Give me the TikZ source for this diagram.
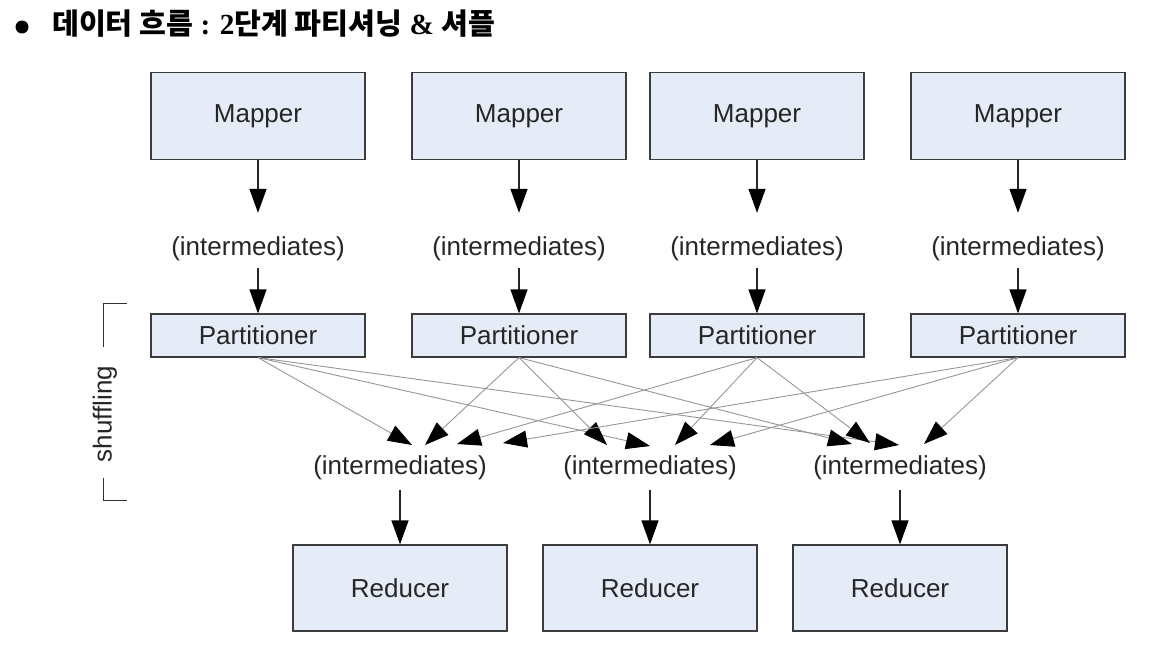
\documentclass[tikz,border=0pt]{standalone}
\usepackage{fontspec}
\setmainfont{Liberation Serif}
\newfontfamily\arialf{Liberation Sans}
\newfontfamily\kr{Noto Sans CJK KR}
\usetikzlibrary{arrows.meta}
\definecolor{boxfill}{RGB}{230,236,247}
\definecolor{boxline}{RGB}{60,60,60}
\definecolor{shufline}{RGB}{150,150,150}
\begin{document}
\begin{tikzpicture}[x=1pt,y=-1pt,
 lbl/.style={font=\arialf\fontsize{26}{30}\selectfont, text=black!85},
 bigbox/.style={lbl, draw=boxline, line width=1.2pt, fill=boxfill, minimum width=214pt, minimum height=87pt, inner sep=0pt},
 pbox/.style={lbl, draw=boxline, line width=1.2pt, fill=boxfill, minimum width=214pt, minimum height=43pt, inner sep=0pt},
 inter/.style={lbl, inner sep=0pt, text height=19pt, text depth=5.5pt},
 varr/.style={draw=black!85, line width=1.3pt, -{Triangle[length=24pt,width=17pt,color=black]}},
 sarr/.style={draw=shufline, line width=0.9pt, -{Triangle[length=24pt,width=17pt,color=black]}},
 brk/.style={draw=black!80, line width=1pt}
]
\useasboundingbox (0,0) rectangle (1166,659);

% title
\fill (22,27) circle (6.5);
\node[anchor=west, inner sep=0pt, font=\bfseries\fontsize{29.2}{32}\selectfont] (title) at (52,24)
  {{\kr 데이터 흐름} : 2{\kr 단계 파티셔닝} \& {\kr 셔플}};

% mappers
\foreach \n/\x in {1/258,2/519,3/757,4/1018}{
  \node[bigbox] (m\n) at (\x,116) {Mapper};
  \node[inter] (i\n) at (\x,249) {(intermediates)};
  \node[pbox] (p\n) at (\x,335.5) {Partitioner};
  \draw[varr, shorten >=23.75pt] (m\n.south) -- (i\n.north);
  \draw[varr, shorten <=6.75pt] (i\n.south) -- (p\n.north);
}

% reducers
\foreach \n/\x in {1/400,2/650,3/900}{
  \node[inter] (j\n) at (\x,468) {(intermediates)};
  \node[bigbox, minimum height=86pt] (r\n) at (\x,588) {Reducer};
  \draw[varr, shorten <=9.75pt] (j\n.south) -- (r\n.north);
}

% shuffle tips: t<target><source>
\coordinate (t11) at (412,445);
\coordinate (t12) at (425,445);
\coordinate (t13) at (457,444);
\coordinate (t14) at (503,443);
\coordinate (t21) at (650,446);
\coordinate (t22) at (607,445);
\coordinate (t23) at (675,445);
\coordinate (t24) at (710,445);
\coordinate (t31) at (899,445);
\coordinate (t32) at (852,444);
\coordinate (t33) at (870,443);
\coordinate (t34) at (924,444);
\foreach \s in {1,2,3,4}{
  \foreach \t in {1,2,3}{
    \draw[sarr] (p\s.south) -- (t\t\s);
  }
}

% shuffling bracket
\draw[brk] (127,303) -- (103,303) -- (103,347);
\draw[brk] (103,478) -- (103,500) -- (127,500);
\node[lbl, rotate=90, inner sep=0pt] (shuf) at (105,414) {shuffling};
\end{tikzpicture}
\end{document}
